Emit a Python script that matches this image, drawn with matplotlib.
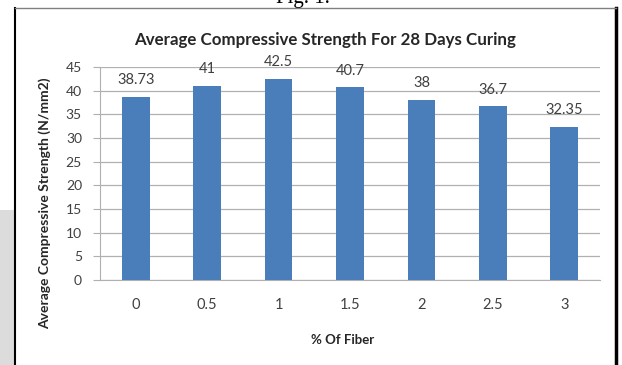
import matplotlib.pyplot as plt
from matplotlib.patches import Rectangle
from matplotlib.lines import Line2D

# Compressive strength after 28 days of curing, by fibre content
fiber_pct = ['0', '0.5', '1', '1.5', '2', '2.5', '3']
strength = [38.73, 41, 42.5, 40.7, 38, 36.7, 32.35]
value_labels = ['38.73', '41', '42.5', '40.7', '38', '36.7', '32.35']
y_ticks = [0, 5, 10, 15, 20, 25, 30, 35, 40, 45]

BAR_COLOR = '#4a7ebb'
TEXT_COLOR = '#404040'
GRID_COLOR = '#b0b0b0'

plt.rcParams['font.family'] = ['Lato', 'DejaVu Sans']

W, H = 622, 365
fig = plt.figure(figsize=(W / 100, H / 100), dpi=100)

def fx(px):
    return px / W

def fy(py):
    return 1 - py / H

# page background: grey shadow strip on the left, framed white box
fig.patches.append(Rectangle((0, 0), fx(14), fy(210), transform=fig.transFigure,
                             facecolor='#dcdcdc', edgecolor='none', zorder=0))
fig.lines.append(Line2D([fx(15), fx(15)], [0, fy(8)], transform=fig.transFigure,
                        color='black', lw=1.5))
fig.lines.append(Line2D([fx(616), fx(616)], [0, fy(8)], transform=fig.transFigure,
                        color='black', lw=2.5))
fig.lines.append(Line2D([fx(15), fx(616)], [fy(8), fy(8)], transform=fig.transFigure,
                        color='#808080', lw=1))

# caption running off the top of the page
fig.text(fx(303), fy(3), 'Fig. 1.', family='Liberation Serif', fontsize=15,
         ha='center', va='baseline', color='black')

ax = fig.add_axes([fx(100), fy(280), fx(600) - fx(100), fy(67) - fy(280)])
x = range(len(fiber_pct))
ax.bar(x, strength, width=0.39, color=BAR_COLOR, zorder=3)

for xi, v, lab in zip(x, strength, value_labels):
    ax.annotate(lab, (xi, v), xytext=(0, 12), textcoords='offset points',
                ha='center', va='center', fontsize=10.5, color=TEXT_COLOR)

ax.set_xlim(-0.5, len(fiber_pct) - 0.5)
ax.set_ylim(0, 45)
ax.set_yticks(y_ticks)
ax.set_xticks(list(x))
ax.set_xticklabels(fiber_pct)
ax.yaxis.grid(True, color=GRID_COLOR, lw=0.9, zorder=0)
ax.set_axisbelow(True)

for side in ['top', 'right']:
    ax.spines[side].set_visible(False)
ax.spines['left'].set_color(GRID_COLOR)
ax.spines['bottom'].set_color(GRID_COLOR)
ax.tick_params(axis='y', length=5, color=GRID_COLOR, labelsize=10,
               labelcolor=TEXT_COLOR, pad=8)
ax.tick_params(axis='x', length=0, labelsize=10.5, labelcolor=TEXT_COLOR, pad=13)

fig.text(fx(325), fy(45), 'Average Compressive Strength For 28 Days Curing',
         ha='center', va='baseline', fontsize=12.2, fontweight='bold', color='#262626')
fig.text(fx(343), fy(340), '% Of Fiber', ha='center', va='center',
         fontsize=9.5, fontweight='bold', color='#262626')
fig.text(fx(45), fy(203), 'Average Compressive Strength (N/mm2)', rotation=90,
         ha='center', va='center', fontsize=10, fontweight='bold', color='#262626')

fig.savefig('out.png', dpi=100)
